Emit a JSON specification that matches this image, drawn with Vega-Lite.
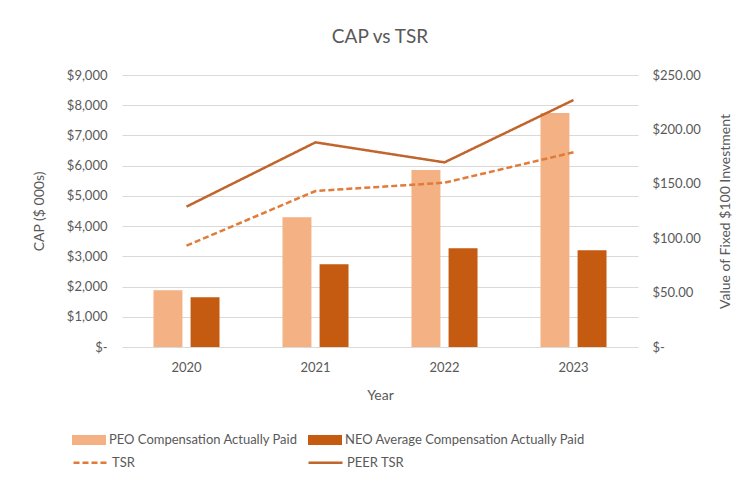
{
  "$schema": "https://vega.github.io/schema/vega-lite/v6.json",
  "autosize": {"type": "none"},
  "width": 516,
  "height": 272,
  "padding": {"left": 122, "top": 75, "right": 109, "bottom": 135},
  "background": "white",
  "config": {
    "font": "Lato",
    "view": {"stroke": null},
    "axis": {"labelColor": "#595959", "titleColor": "#595959", "labelFont": "Lato", "titleFont": "Lato", "labelFontSize": 13, "titleFontSize": 14, "titleFontWeight": "normal", "domain": false, "ticks": false},
    "legend": {"labelFont": "Lato", "labelFontSize": 13, "labelColor": "#595959", "labelLimit": 400}
  },
  "title": {"text": "CAP vs TSR", "fontSize": 19, "fontWeight": "normal", "color": "#595959", "font": "Lato", "anchor": "middle", "offset": 22},
  "data": {"values": [
    {"year": "2020", "series": "PEO Compensation Actually Paid", "kind": "bar", "value": 1880},
    {"year": "2020", "series": "NEO Average Compensation Actually Paid", "kind": "bar", "value": 1650},
    {"year": "2021", "series": "PEO Compensation Actually Paid", "kind": "bar", "value": 4290},
    {"year": "2021", "series": "NEO Average Compensation Actually Paid", "kind": "bar", "value": 2740},
    {"year": "2022", "series": "PEO Compensation Actually Paid", "kind": "bar", "value": 5860},
    {"year": "2022", "series": "NEO Average Compensation Actually Paid", "kind": "bar", "value": 3270},
    {"year": "2023", "series": "PEO Compensation Actually Paid", "kind": "bar", "value": 7740},
    {"year": "2023", "series": "NEO Average Compensation Actually Paid", "kind": "bar", "value": 3200},
    {"year": "2020", "series": "TSR", "kind": "line", "value": 93.1},
    {"year": "2021", "series": "TSR", "kind": "line", "value": 143.4},
    {"year": "2022", "series": "TSR", "kind": "line", "value": 151.0},
    {"year": "2023", "series": "TSR", "kind": "line", "value": 179.0},
    {"year": "2020", "series": "PEER TSR", "kind": "line", "value": 129.0},
    {"year": "2021", "series": "PEER TSR", "kind": "line", "value": 188.1},
    {"year": "2022", "series": "PEER TSR", "kind": "line", "value": 169.7},
    {"year": "2023", "series": "PEER TSR", "kind": "line", "value": 227.0}
  ]},
  "encoding": {
    "x": {"field": "year", "type": "nominal", "title": "Year",
      "scale": {"paddingInner": 0.488, "paddingOuter": 0.244},
      "axis": {"labelAngle": 0, "labelPadding": 14, "titlePadding": 14, "grid": false}}
  },
  "layer": [
    {
      "transform": [{"filter": "datum.kind === 'bar'"}],
      "mark": {"type": "bar"},
      "encoding": {
        "xOffset": {"field": "series", "type": "nominal", "sort": ["PEO Compensation Actually Paid", "NEO Average Compensation Actually Paid"], "scale": {"paddingInner": 0.22}},
        "y": {"field": "value", "type": "quantitative", "title": "CAP ($ 000s)",
          "scale": {"domain": [0, 9000], "nice": false},
          "axis": {"values": [0,1000,2000,3000,4000,5000,6000,7000,8000,9000], "labelExpr": "datum.value === 0 ? '$-' : '$' + format(datum.value, ',')", "labelPadding": 15, "titlePadding": 20, "grid": true, "gridColor": "#D9D9D9", "gridWidth": 1}},
        "fill": {"field": "series", "type": "nominal",
          "scale": {"domain": ["PEO Compensation Actually Paid", "NEO Average Compensation Actually Paid"], "range": ["#F4B183", "#C55A11"]},
          "legend": {"orient": "none", "legendX": -50, "legendY": 348, "direction": "horizontal", "columns": 2, "columnPadding": 10, "title": null,
            "symbolType": "M-1,-0.3H1V0.3H-1Z", "symbolSize": 1156, "symbolStrokeWidth": 0, "labelOffset": 3}}
      }
    },
    {
      "transform": [{"filter": "datum.kind === 'line'"}],
      "mark": {"type": "line", "strokeWidth": 2.5},
      "encoding": {
        "y": {"field": "value", "type": "quantitative", "title": "Value of Fixed $100 Investment",
          "scale": {"domain": [0, 250], "nice": false},
          "axis": {"orient": "right", "values": [0,50,100,150,200,250], "labelExpr": "datum.value === 0 ? '$-' : '$' + format(datum.value, ',.2f')", "labelPadding": 14, "titlePadding": 32, "titleAngle": 270, "grid": false}},
        "stroke": {"field": "series", "type": "nominal",
          "scale": {"domain": ["TSR", "PEER TSR"], "range": ["#E07B39", "#C0652B"]},
          "legend": {"orient": "none", "legendX": -50, "legendY": 369, "direction": "horizontal", "columns": 2, "columnPadding": 168, "title": null,
            "symbolType": "stroke", "symbolSize": 1156, "symbolStrokeWidth": 2.5, "labelOffset": 3}},
        "strokeDash": {"field": "series", "type": "nominal",
          "scale": {"domain": ["TSR", "PEER TSR"], "range": [[6, 3], [1, 0]]},
          "legend": {"orient": "none", "legendX": -50, "legendY": 369, "direction": "horizontal", "columns": 2, "columnPadding": 168, "title": null,
            "symbolType": "stroke", "symbolSize": 1156, "symbolStrokeWidth": 2.5, "labelOffset": 3}}
      }
    }
  ],
  "resolve": {"scale": {"y": "independent"}}
}
